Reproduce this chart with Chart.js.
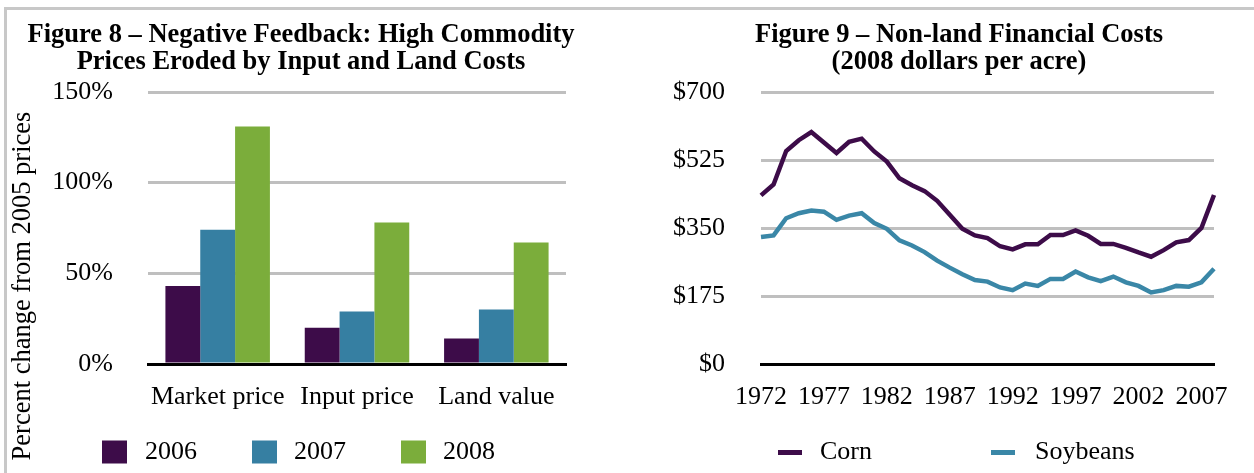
<!DOCTYPE html>
<html>
<head>
<meta charset="utf-8">
<script src="https://cdn.jsdelivr.net/npm/chart.js@4/dist/chart.umd.min.js"></script>
<style>
  html, body { margin: 0; padding: 0; background: #fff; overflow: hidden; }
  body { width: 1254px; height: 473px; position: relative; }
  canvas { position: absolute; top: 0; }
  #c1 { left: 0; }
  #c2 { left: 664px; }
  .frame { position: absolute; background: #c8c8c8; }
</style>
</head>
<body>
<div class="frame" style="left:4px; top:7px; width:1250px; height:3px;"></div>
<div class="frame" style="left:4px; top:7px; width:3px; height:466px;"></div>
<canvas id="c1" width="602" height="473"></canvas>
<canvas id="c2" width="590" height="473"></canvas>
<script>
// ---------- Figure 8 data ----------
const fig8Title = ['Figure 8 \u2013 Negative Feedback: High Commodity', 'Prices Eroded by Input and Land Costs'];
const fig8YTitle = 'Percent change from 2005 prices';
const fig8Categories = ['Market price', 'Input price', 'Land value'];
const fig8SeriesNames = ['2006', '2007', '2008'];
const fig8Values2006 = [43, 20, 14];
const fig8Values2007 = [74, 29, 30];
const fig8Values2008 = [131, 78, 67];
const fig8Ticks = [0, 50, 100, 150];

// ---------- Figure 9 data ----------
const fig9Title = ['Figure 9 \u2013 Non-land Financial Costs', '(2008 dollars per acre)'];
const fig9Years = ['1972','1973','1974','1975','1976','1977','1978','1979','1980','1981',
                   '1982','1983','1984','1985','1986','1987','1988','1989','1990','1991',
                   '1992','1993','1994','1995','1996','1997','1998','1999','2000','2001',
                   '2002','2003','2004','2005','2006','2007','2008'];
const fig9YearTicks = ['1972','1977','1982','1987','1992','1997','2002','2007'];
const fig9SeriesNames = ['Corn', 'Soybeans'];
const fig9Corn = [434,462,548,576,597,570,543,572,580,547,
                  521,478,460,445,420,384,348,331,324,303,
                  295,308,308,332,332,344,330,309,309,299,
                  287,276,293,313,319,350,435];
const fig9Soybeans = [327,331,375,388,395,392,371,382,388,363,
                      348,318,305,288,266,248,231,216,212,197,
                      190,207,201,219,219,238,223,213,225,210,
                      201,184,190,201,199,210,245];
const fig9Ticks = [0, 175, 350, 525, 700];

// ---------- styling ----------
const FONT = "'Liberation Serif', 'Times New Roman', serif";
const PURPLE = '#3d0c49';
const BLUE = '#367fa2';
const GREEN = '#7bad3b';
const TEAL = '#3a87a7';
const GRID = '#bfbfbf';

Chart.defaults.font.family = FONT;
Chart.defaults.color = '#000';

const placedLegend = {
  id: 'placedLegend',
  afterDraw(chart, args, opts) {
    const ctx = chart.ctx;
    ctx.save();
    ctx.font = opts.fontSize + 'px ' + FONT;
    ctx.textBaseline = 'middle';
    ctx.textAlign = 'left';
    chart.data.datasets.forEach((ds, i) => {
      const s = opts.slots[i];
      ctx.fillStyle = ds.legendColor;
      ctx.fillRect(s.x, opts.y - s.h / 2, s.w, s.h);
      ctx.fillStyle = '#000';
      ctx.fillText(ds.label, s.tx, opts.y);
    });
    ctx.restore();
  }
};

const sideTitle = {
  id: 'sideTitle',
  afterDraw(chart, args, opts) {
    if (!opts.text) return;
    const ctx = chart.ctx;
    ctx.save();
    ctx.translate(opts.x, opts.y);
    ctx.rotate(-Math.PI / 2);
    ctx.font = opts.fontSize + 'px ' + FONT;
    ctx.textAlign = 'center';
    ctx.textBaseline = 'middle';
    ctx.fillStyle = '#000';
    ctx.fillText(opts.text, 0, 0);
    ctx.restore();
  }
};

const tickFont = { family: FONT, size: 26 };
const titleFont = { family: FONT, size: 26.5, weight: 'bold', lineHeight: 27 / 26.5 };

// ---------- Figure 8 chart ----------
new Chart(document.getElementById('c1'), {
  type: 'bar',
  data: {
    labels: fig8Categories,
    datasets: [
      { label: fig8SeriesNames[0], data: fig8Values2006, backgroundColor: PURPLE, legendColor: PURPLE },
      { label: fig8SeriesNames[1], data: fig8Values2007, backgroundColor: BLUE, legendColor: BLUE },
      { label: fig8SeriesNames[2], data: fig8Values2008, backgroundColor: GREEN, legendColor: GREEN }
    ]
  },
  options: {
    responsive: false,
    animation: false,
    devicePixelRatio: 1,
    layout: { padding: 0 },
    datasets: { bar: { barPercentage: 1, categoryPercentage: 0.75, borderWidth: 0 } },
    plugins: {
      legend: { display: false },
      tooltip: { enabled: false },
      title: { display: true, text: fig8Title, font: titleFont, color: '#000', padding: { top: 21.5, bottom: 16.5 } },
      placedLegend: {
        fontSize: 26, y: 452,
        slots: [ { x: 102, w: 25, h: 23, tx: 145 }, { x: 252, w: 25, h: 23, tx: 294 }, { x: 401, w: 25, h: 23, tx: 443 } ]
      },
      sideTitle: { text: fig8YTitle, x: 23, y: 286, fontSize: 26.5 }
    },
    scales: {
      x: {
        grid: { display: false, drawTicks: false },
        border: { display: true, color: '#000', width: 3, z: 1 },
        ticks: { font: tickFont, color: '#000', padding: 18, maxRotation: 0 },
        afterFit(s) { s.height = 109; }
      },
      y: {
        min: 0, max: 150,
        afterBuildTicks(s) { s.ticks = fig8Ticks.map(v => ({ value: v })); },
        ticks: { font: tickFont, color: '#000', padding: 35, callback: v => v + '%' },
        grid: { color: GRID, lineWidth: 3, drawTicks: false },
        border: { display: false },
        afterFit(s) { s.width = 148; }
      },
      y2: {
        position: 'right', display: true,
        grid: { display: false, drawTicks: false }, ticks: { display: false }, border: { display: false },
        afterFit(s) { s.width = 36; }
      }
    }
  },
  plugins: [placedLegend, sideTitle]
});

// ---------- Figure 9 chart ----------
new Chart(document.getElementById('c2'), {
  type: 'line',
  data: {
    labels: fig9Years,
    datasets: [
      { label: fig9SeriesNames[0], data: fig9Corn, borderColor: PURPLE, backgroundColor: PURPLE, legendColor: PURPLE,
        borderWidth: 4.5, pointRadius: 0, tension: 0, fill: false, borderJoinStyle: 'miter' },
      { label: fig9SeriesNames[1], data: fig9Soybeans, borderColor: TEAL, backgroundColor: TEAL, legendColor: TEAL,
        borderWidth: 4.5, pointRadius: 0, tension: 0, fill: false, borderJoinStyle: 'miter' }
    ]
  },
  options: {
    responsive: false,
    animation: false,
    devicePixelRatio: 1,
    layout: { padding: 0 },
    plugins: {
      legend: { display: false },
      tooltip: { enabled: false },
      title: { display: true, text: fig9Title, font: titleFont, color: '#000', padding: { top: 21.5, bottom: 16.5 } },
      placedLegend: {
        fontSize: 26, y: 452.5,
        slots: [ { x: 114, w: 24, h: 5, tx: 156 }, { x: 327, w: 24, h: 5, tx: 371 } ]
      }
    },
    scales: {
      x: {
        offset: false,
        grid: { display: false, drawTicks: false },
        border: { display: true, color: '#000', width: 3, z: 1 },
        ticks: {
          font: tickFont, color: '#000', padding: 18, maxRotation: 0, autoSkip: false,
          callback(v, i) { const y = fig9Years[i]; return fig9YearTicks.includes(y) ? y : null; }
        },
        afterFit(s) { s.height = 109; }
      },
      y: {
        min: 0, max: 700,
        afterBuildTicks(s) { s.ticks = fig9Ticks.map(v => ({ value: v })); },
        ticks: { font: tickFont, color: '#000', padding: 36, callback: v => '$' + v },
        grid: { color: GRID, lineWidth: 3, drawTicks: false },
        border: { display: false },
        afterFit(s) { s.width = 97; }
      },
      y2: {
        position: 'right', display: true,
        grid: { display: false, drawTicks: false }, ticks: { display: false }, border: { display: false },
        afterFit(s) { s.width = 40; }
      }
    }
  },
  plugins: [placedLegend]
});
</script>
</body>
</html>
